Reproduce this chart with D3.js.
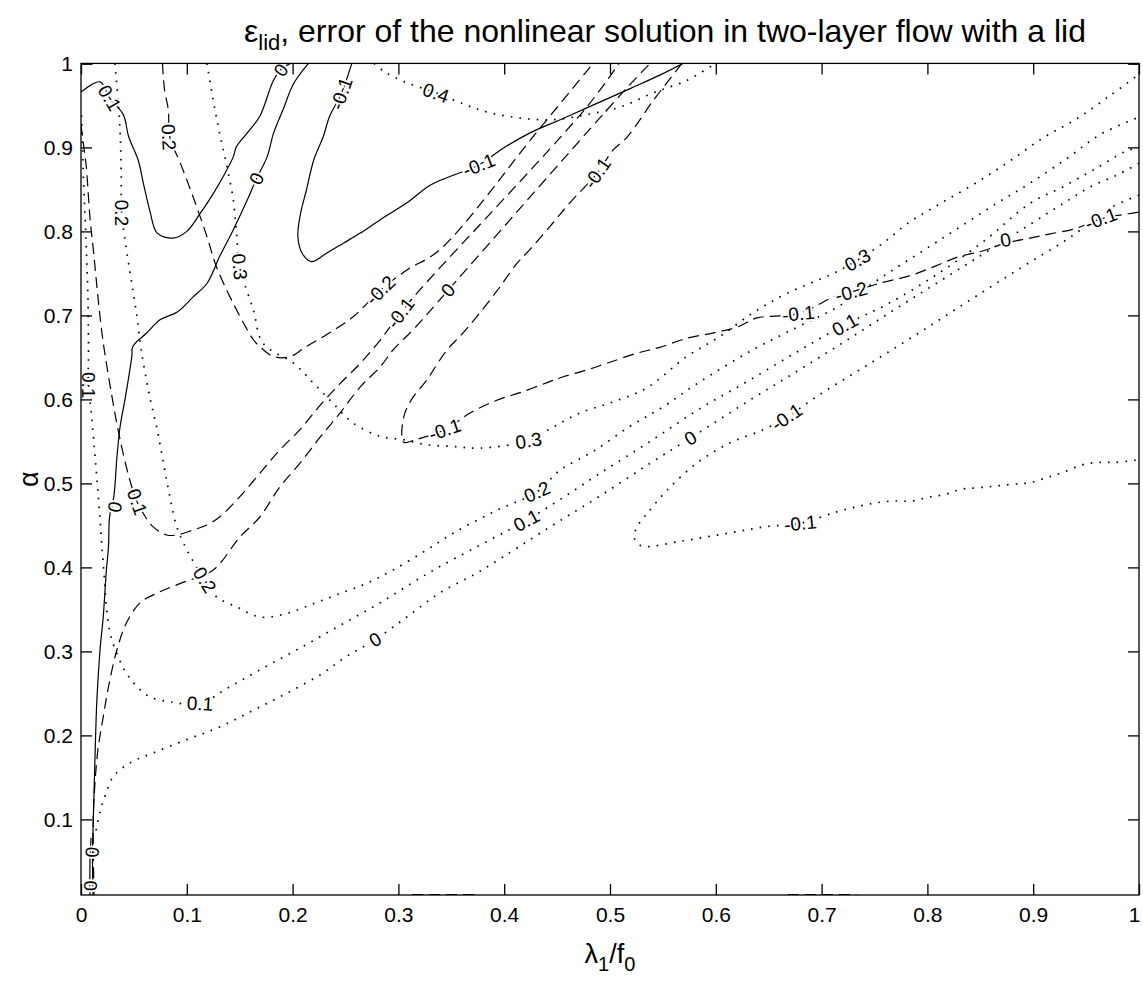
<!DOCTYPE html>
<html>
<head>
<meta charset="utf-8">
<script src="https://cdn.jsdelivr.net/npm/d3@7"></script>
<style>
  body { margin: 0; background: #fff; }
  text { font-family: "Liberation Sans", Arial, Helvetica, sans-serif; fill: #000; }
</style>
</head>
<body>
<div id="chart"></div>
<script>
// tick values
const xTicks = [0, 0.1, 0.2, 0.3, 0.4, 0.5, 0.6, 0.7, 0.8, 0.9, 1];
const yTicks = [0.1, 0.2, 0.3, 0.4, 0.5, 0.6, 0.7, 0.8, 0.9, 1];

// solid contours (lambda1/f0, alpha)
const solidLines = [
  { id: "s1", pts: [[0.000,0.966],[0.018,0.978],[0.027,0.959],[0.040,0.939],[0.045,0.913],[0.054,0.885],[0.059,0.857],[0.065,0.825],[0.072,0.798],[0.087,0.792],[0.100,0.800],[0.113,0.822],[0.125,0.845],[0.136,0.869],[0.144,0.889],[0.147,0.901],[0.157,0.917],[0.169,0.937],[0.182,0.980],[0.190,0.994],[0.198,1.0]] },
  { id: "s2", pts: [[0.215,1.0],[0.201,0.976],[0.191,0.945],[0.182,0.917],[0.176,0.889],[0.166,0.863],[0.157,0.837],[0.144,0.802],[0.131,0.770],[0.119,0.738],[0.106,0.722],[0.091,0.704],[0.075,0.695],[0.062,0.679],[0.049,0.663],[0.048,0.651],[0.042,0.603],[0.037,0.568],[0.034,0.532],[0.031,0.484],[0.027,0.460],[0.026,0.425],[0.024,0.397],[0.021,0.341],[0.018,0.302],[0.015,0.242],[0.013,0.163],[0.0116,0.099],[0.0109,0.060],[0.0113,0.01]] },
  { id: "s2b", pts: [[0.0085,0.01],[0.0085,0.05],[0.0095,0.078]] },
  { id: "s3", pts: [[0.256,1.0],[0.246,0.964],[0.235,0.937],[0.229,0.913],[0.220,0.885],[0.213,0.849],[0.207,0.818],[0.205,0.794],[0.209,0.774],[0.218,0.764],[0.232,0.774],[0.248,0.786],[0.264,0.798],[0.283,0.814],[0.308,0.834],[0.330,0.855],[0.350,0.866],[0.376,0.879],[0.399,0.899],[0.424,0.917],[0.453,0.933],[0.478,0.947],[0.519,0.970],[0.547,0.986],[0.569,1.0]] },
  { id: "cornerL", pts: [[0,0.999],[0.011,0.999]] },
  { id: "cornerR", pts: [[0.99,0.999],[1,0.999]] }
];

// dashed contours
const dashedLines = [
  { id: "d1", pts: [[0.077,1.0],[0.079,0.968],[0.0825,0.945],[0.084,0.912],[0.094,0.881],[0.106,0.841],[0.119,0.794],[0.128,0.758],[0.144,0.714],[0.163,0.671],[0.169,0.663],[0.182,0.651],[0.198,0.651],[0.213,0.663],[0.232,0.677],[0.257,0.698],[0.283,0.730],[0.308,0.754],[0.339,0.778],[0.430,0.917],[0.484,1.0]] },
  { id: "d2", pts: [[0.0,0.927],[0.003,0.897],[0.005,0.877],[0.0085,0.816],[0.012,0.774],[0.016,0.722],[0.020,0.677],[0.024,0.643],[0.031,0.591],[0.035,0.564],[0.042,0.524],[0.048,0.496],[0.053,0.478],[0.059,0.464],[0.068,0.4485],[0.081,0.4386],[0.0905,0.4386],[0.106,0.4445],[0.119,0.4505],[0.131,0.460],[0.150,0.484],[0.169,0.512],[0.188,0.540],[0.207,0.564],[0.226,0.593],[0.245,0.619],[0.264,0.643],[0.283,0.671],[0.302,0.703],[0.320,0.730],[0.478,0.948],[0.5085,1.0]] },
  { id: "d3", pts: [[0.0123,0.01],[0.0116,0.103],[0.0132,0.143],[0.016,0.183],[0.021,0.222],[0.026,0.258],[0.034,0.302],[0.043,0.334],[0.056,0.358],[0.072,0.3695],[0.094,0.381],[0.125,0.397],[0.150,0.436],[0.169,0.460],[0.188,0.496],[0.207,0.524],[0.226,0.555],[0.245,0.584],[0.264,0.615],[0.283,0.639],[0.295,0.659],[0.314,0.683],[0.347,0.730],[0.516,0.971],[0.538,1.0]] },
  { id: "d4", pts: [[0.568,1.0],[0.541,0.956],[0.516,0.912],[0.503,0.897],[0.488,0.8695],[0.462,0.834],[0.446,0.810],[0.424,0.778],[0.412,0.762],[0.396,0.734],[0.377,0.703],[0.361,0.679],[0.346,0.659],[0.333,0.635],[0.327,0.623],[0.314,0.603],[0.305,0.579],[0.305,0.549],[0.316,0.552],[0.344,0.564],[0.368,0.584],[0.393,0.599],[0.415,0.608],[0.4405,0.620],[0.456,0.627],[0.478,0.635],[0.497,0.643],[0.5255,0.655],[0.547,0.662],[0.573,0.673],[0.597,0.679],[0.620,0.686],[0.639,0.697],[0.678,0.702],[0.713,0.723],[0.728,0.728],[0.757,0.739],[0.783,0.747],[0.808,0.759],[0.830,0.770],[0.853,0.777],[0.874,0.786],[0.897,0.792],[0.916,0.797],[0.939,0.803],[0.964,0.815],[0.990,0.821],[1.0,0.823]] },
  { id: "edgeA", pts: [[0.313,0.0105],[0.376,0.0105]] },
  { id: "edgeB", pts: [[0.668,0.0105],[0.733,0.0105]] }
];

// dotted contours
const dottedLines = [
  { id: "t04", pts: [[0.277,1.0],[0.287,0.990],[0.306,0.978],[0.3355,0.965],[0.365,0.950],[0.384,0.942],[0.415,0.935],[0.446,0.933],[0.478,0.939],[0.5095,0.948],[0.541,0.965],[0.573,0.980],[0.597,0.998],[0.599,1.0]] },
  { id: "t03", pts: [[0.119,1.0],[0.125,0.956],[0.131,0.917],[0.138,0.877],[0.144,0.837],[0.147,0.798],[0.150,0.758],[0.163,0.706],[0.172,0.667],[0.201,0.643],[0.220,0.619],[0.2385,0.595],[0.257,0.572],[0.283,0.556],[0.305,0.552],[0.327,0.546],[0.352,0.544],[0.377,0.542],[0.423,0.551],[0.446,0.567],[0.472,0.584],[0.503,0.597],[0.535,0.614],[0.5725,0.651],[0.604,0.675],[0.635,0.703],[0.667,0.726],[0.711,0.750],[0.734,0.766],[0.757,0.785],[0.783,0.811],[0.812,0.833],[0.845,0.857],[0.877,0.883],[0.909,0.911],[0.941,0.934],[0.973,0.962],[1.0,0.987]] },
  { id: "t02", pts: [[0.032,1.0],[0.035,0.956],[0.037,0.917],[0.038,0.870],[0.0385,0.822],[0.043,0.778],[0.048,0.738],[0.053,0.698],[0.056,0.667],[0.059,0.643],[0.065,0.603],[0.072,0.564],[0.078,0.524],[0.084,0.484],[0.0905,0.4485],[0.100,0.421],[0.109,0.401],[0.117,0.385],[0.128,0.365],[0.147,0.353],[0.169,0.341],[0.194,0.345],[0.220,0.357],[0.245,0.369],[0.270,0.381],[0.295,0.397],[0.327,0.421],[0.352,0.441],[0.393,0.468],[0.431,0.490],[0.453,0.516],[0.484,0.538],[0.519,0.568],[0.550,0.591],[0.585,0.621],[0.635,0.659],[0.677,0.686],[0.715,0.710],[0.760,0.748],[0.812,0.790],[0.865,0.833],[0.8965,0.857],[0.932,0.887],[0.9635,0.9155],[1.0,0.936]] },
  { id: "t01", pts: [[0.0005,0.938],[0.0024,0.861],[0.0047,0.790],[0.0066,0.718],[0.0071,0.659],[0.0071,0.617],[0.0095,0.587],[0.0164,0.484],[0.021,0.405],[0.027,0.325],[0.035,0.294],[0.043,0.274],[0.053,0.258],[0.065,0.246],[0.084,0.240],[0.1125,0.238],[0.138,0.256],[0.169,0.278],[0.207,0.304],[0.245,0.331],[0.283,0.358],[0.320,0.387],[0.342,0.403],[0.387,0.433],[0.421,0.456],[0.453,0.481],[0.4905,0.512],[0.538,0.550],[0.585,0.589],[0.632,0.623],[0.680,0.659],[0.722,0.689],[0.760,0.712],[0.808,0.748],[0.855,0.790],[0.8965,0.833],[0.928,0.853],[0.960,0.8755],[0.986,0.8945],[1.0,0.9005]] },
  { id: "t00", pts: [[0.0142,0.087],[0.018,0.109],[0.023,0.129],[0.0305,0.151],[0.046,0.167],[0.068,0.179],[0.100,0.195],[0.131,0.210],[0.163,0.230],[0.194,0.250],[0.226,0.272],[0.251,0.294],[0.278,0.314],[0.308,0.341],[0.339,0.3695],[0.371,0.391],[0.387,0.403],[0.443,0.448],[0.4905,0.485],[0.538,0.524],[0.576,0.554],[0.632,0.599],[0.680,0.636],[0.727,0.673],[0.774,0.711],[0.821,0.748],[0.869,0.786],[0.928,0.833],[0.954,0.853],[0.979,0.867],[1.0,0.881]] },
  { id: "tm01", pts: [[1.0,0.843],[0.973,0.828],[0.935,0.793],[0.8875,0.756],[0.840,0.718],[0.793,0.680],[0.746,0.643],[0.6985,0.606],[0.667,0.579],[0.645,0.564],[0.613,0.548],[0.582,0.524],[0.554,0.492],[0.535,0.464],[0.5255,0.448],[0.523,0.435],[0.530,0.4255],[0.566,0.431],[0.613,0.441],[0.648,0.4485],[0.680,0.4525],[0.714,0.466],[0.736,0.473],[0.752,0.477],[0.768,0.479],[0.785,0.479],[0.801,0.4835],[0.817,0.487],[0.832,0.493],[0.850,0.495],[0.8655,0.497],[0.881,0.499],[0.897,0.501],[0.913,0.507],[0.928,0.513],[0.946,0.522],[0.9615,0.525],[0.977,0.525],[1.0,0.528]] }
];

// contour labels: text, line id, position
const contourLabels = [
  ["0.1", "s1", 0.027, 0.959], ["0", "s1", 0.189, 0.992],
  ["0", "s2", 0.166, 0.863], ["0", "s2", 0.032, 0.472],
  ["0", "s2b", 0.0104, 0.061], ["0", "s2b", 0.0085, 0.021],
  ["-0.1", "s3", 0.246, 0.964], ["-0.1", "s3", 0.376, 0.879],
  ["0.2", "d1", 0.083, 0.912], ["-0.2", "d1", 0.283, 0.730],
  ["0.1", "d2", 0.053, 0.478], ["-0.1", "d2", 0.302, 0.703],
  ["0", "d3", 0.347, 0.730],
  ["-0.1", "d4", 0.488, 0.8695], ["-0.1", "d4", 0.344, 0.564], ["-0.1", "d4", 0.678, 0.702],
  ["-0.2", "d4", 0.728, 0.728], ["0", "d4", 0.874, 0.790], ["-0.1", "d4", 0.964, 0.815],
  ["0.4", "t04", 0.3355, 0.965],
  ["0.3", "t03", 0.150, 0.758], ["0.3", "t03", 0.423, 0.551], ["0.3", "t03", 0.734, 0.766],
  ["0.2", "t02", 0.0385, 0.822], ["0.2", "t02", 0.117, 0.385], ["0.2", "t02", 0.431, 0.490],
  ["0.1", "t01", 0.0071, 0.617], ["0.1", "t01", 0.1125, 0.238], ["0.1", "t01", 0.421, 0.456], ["0.1", "t01", 0.722, 0.689],
  ["0", "t00", 0.278, 0.314], ["0", "t00", 0.576, 0.554],
  ["-0.1", "tm01", 0.667, 0.579], ["-0.1", "tm01", 0.680, 0.4525]
];

const W = 1143, H = 984;
const margin = { top: 63.4, right: 4, bottom: 89, left: 81 };
const width = W - margin.left - margin.right;
const height = H - margin.top - margin.bottom;

const svg = d3.select("#chart").append("svg")
  .attr("width", W).attr("height", H);

const g = svg.append("g").attr("transform", `translate(${margin.left},${margin.top})`);

const x = d3.scaleLinear().domain([0, 1]).range([0, width]);
const y = d3.scaleLinear().domain([0.01, 1]).range([height, 0]);

svg.append("defs").append("clipPath").attr("id", "plotclip")
  .append("rect").attr("width", width).attr("height", height);

const line = d3.line()
  .x(d => x(d[0]))
  .y(d => y(d[1]))
  .curve(d3.curveCatmullRom.alpha(0.5));

const plot = g.append("g").attr("clip-path", "url(#plotclip)");

// draw the three contour families
const families = [
  { lines: solidLines, dash: null, w: 1.2 },
  { lines: dashedLines, dash: "11,6", w: 1.2 },
  { lines: dottedLines, dash: "1.6,7.1", w: 1.7 }
];
families.forEach(f => {
  plot.selectAll(null)
    .data(f.lines)
    .enter()
    .append("path")
    .attr("d", d => line(d.pts))
    .attr("fill", "none")
    .attr("stroke", "#000")
    .attr("stroke-width", f.w)
    .attr("stroke-dasharray", f.dash);
});

// label angle follows the nearest segment of its line
const allLines = {};
solidLines.concat(dashedLines, dottedLines).forEach(l => { allLines[l.id] = l.pts; });

function labelAngle(id, px, py) {
  const pts = allLines[id].map(p => [x(p[0]), y(p[1])]);
  let best = Infinity, ang = 0;
  for (let i = 0; i < pts.length - 1; i++) {
    const [x1, y1] = pts[i], [x2, y2] = pts[i + 1];
    const dx = x2 - x1, dy = y2 - y1;
    const len2 = dx * dx + dy * dy || 1;
    let t = ((px - x1) * dx + (py - y1) * dy) / len2;
    t = Math.max(0, Math.min(1, t));
    const ex = x1 + t * dx - px, ey = y1 + t * dy - py;
    const dist = ex * ex + ey * ey;
    if (dist < best) { best = dist; ang = Math.atan2(dy, dx) * 180 / Math.PI; }
  }
  if (ang > 90) ang -= 180;
  if (ang < -90) ang += 180;
  return ang;
}

plot.selectAll(null)
  .data(contourLabels)
  .enter()
  .append("text")
  .attr("transform", d => {
    const px = x(d[2]), py = y(d[3]);
    return `translate(${px},${py}) rotate(${labelAngle(d[1], px, py)})`;
  })
  .attr("text-anchor", "middle")
  .attr("dy", "0.35em")
  .style("font-size", "19px")
  .style("paint-order", "stroke")
  .style("stroke", "#fff")
  .style("stroke-width", "4px")
  .text(d => d[0]);

// axes box with inward ticks on all sides
g.append("rect")
  .attr("width", width).attr("height", height)
  .attr("fill", "none").attr("stroke", "#000").attr("stroke-width", 1.3);

const fmt = d3.format("~g");

const xAxis = g.append("g").attr("transform", `translate(0,${height})`)
  .call(d3.axisBottom(x).tickValues(xTicks).tickSize(-11).tickPadding(12).tickFormat(fmt));
const yAxis = g.append("g")
  .call(d3.axisLeft(y).tickValues(yTicks).tickSize(-11).tickPadding(8).tickFormat(fmt));
g.append("g")
  .call(d3.axisTop(x).tickValues(xTicks).tickSize(-11).tickFormat(""));
g.append("g").attr("transform", `translate(${width},0)`)
  .call(d3.axisRight(y).tickValues(yTicks).tickSize(-11).tickFormat(""));

g.selectAll(".domain").remove();
g.selectAll(".tick line").attr("stroke", "#000").attr("stroke-width", 1.3);
g.selectAll(".tick text")
  .style("font-size", "21px")
  .style("font-family", "'Liberation Sans', Arial, sans-serif")
  .attr("fill", "#000");

// keep the last x label inside the picture
xAxis.selectAll(".tick text").filter(d => d === 1).attr("dx", -5);

// title
const title = svg.append("text")
  .attr("x", 665)
  .attr("y", 42)
  .attr("text-anchor", "middle")
  .style("font-size", "32px");
title.append("tspan").text("\u03b5");
title.append("tspan").attr("dy", 8).style("font-size", "22px").text("lid");
title.append("tspan").attr("dy", -8).text(", error of the nonlinear solution in two-layer flow with a lid");

// x label
const xl = svg.append("text")
  .attr("x", margin.left + width / 2)
  .attr("y", 963)
  .attr("text-anchor", "middle")
  .style("font-size", "27px");
xl.append("tspan").text("\u03bb");
xl.append("tspan").attr("dy", 8).style("font-size", "20px").text("1");
xl.append("tspan").attr("dy", -8).text("/f");
xl.append("tspan").attr("dy", 8).style("font-size", "20px").text("0");

// y label
svg.append("text")
  .attr("transform", `translate(38,${margin.top + height / 2}) rotate(-90)`)
  .attr("text-anchor", "middle")
  .style("font-size", "27px")
  .text("\u03b1");
</script>
</body>
</html>
